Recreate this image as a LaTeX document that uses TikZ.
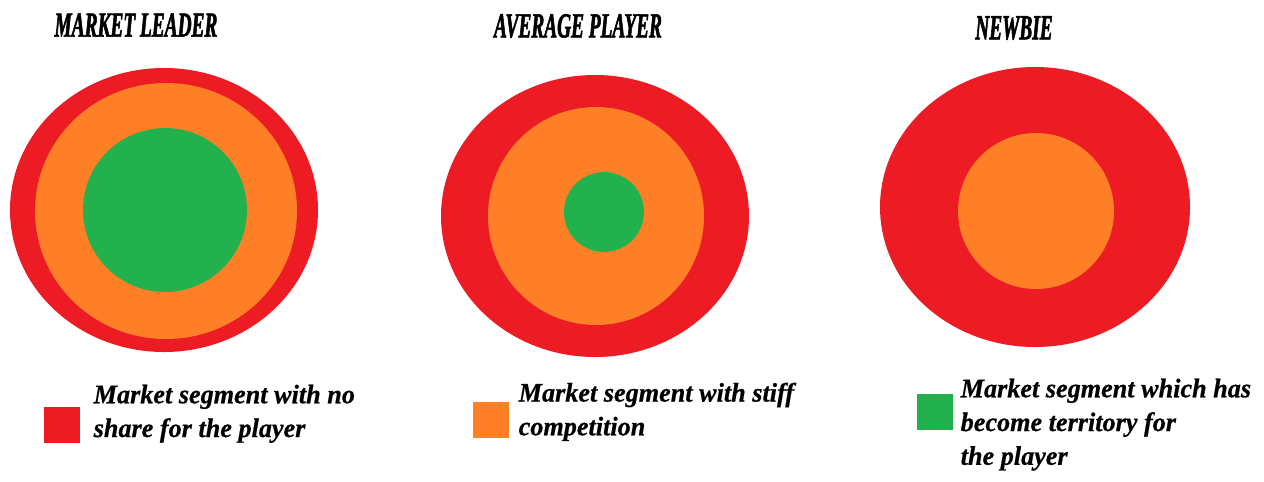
\documentclass[tikz,border=0pt]{standalone}
\usepackage{fontspec}
\usepackage{tikz}
\usetikzlibrary{positioning}
\setmainfont{Liberation Serif}
\newfontfamily\headfont[FakeStretch=0.55, FakeBold=1.5]{Liberation Serif Bold Italic}
\newfontfamily\keyfont[FakeStretch=0.98, FakeBold=0.6]{Liberation Serif Bold Italic}
\definecolor{noshare}{HTML}{ED1C24}
\definecolor{stiff}{HTML}{FF7F27}
\definecolor{owned}{HTML}{22B14C}
\tikzset{
  head/.style={font=\headfont\fontsize{10}{12}\selectfont},
  keybox/.style={rectangle, inner sep=0pt, minimum size=0.36cm},
  keytext/.style={anchor=north west, inner sep=0pt, align=left,
    font=\keyfont\fontsize{7.6}{9.6}\selectfont}
  }
\begin{document}
\begin{tikzpicture}[x=0.01cm, y=-0.01cm]
  \useasboundingbox (0,0) rectangle (1264,481);
  % market leader
  \fill [noshare] (164,210) ellipse [x radius=154, y radius=142];
  \fill [stiff] (166,211) ellipse [x radius=131, y radius=128];
  \fill [owned] (165,210) circle [radius=82];
  % average player
  \fill [noshare] (595,216) ellipse [x radius=154, y radius=141];
  \fill [stiff] (596,216) ellipse [x radius=108, y radius=109];
  \fill [owned] (604,212) circle [radius=40];
  % newbie
  \fill [noshare] (1035,207) ellipse [x radius=155, y radius=140];
  \fill [stiff] (1036,211) circle [radius=78];
  \node [head] (leader) at (136,25) {MARKET LEADER};
  \node [head] (average) at (578,26) {AVERAGE PLAYER};
  \node [head] (newbie) at (1014,28) {NEWBIE};
  \node [keybox, fill=noshare] (redkey) at (62,425) {};
  \node [keybox, fill=stiff] (orangekey) at (491,420) {};
  \node [keybox, fill=owned] (greenkey) at (935,412) {};
  \node [keytext] (redtext) at (93,384) {Market segment with no\\share for the player};
  \node [keytext] (orangetext) at (518,382) {Market segment with stiff\\competition};
  \node [keytext] (greentext) at (960,378) {Market segment which has\\become territory for\\the player};
\end{tikzpicture}
\end{document}
